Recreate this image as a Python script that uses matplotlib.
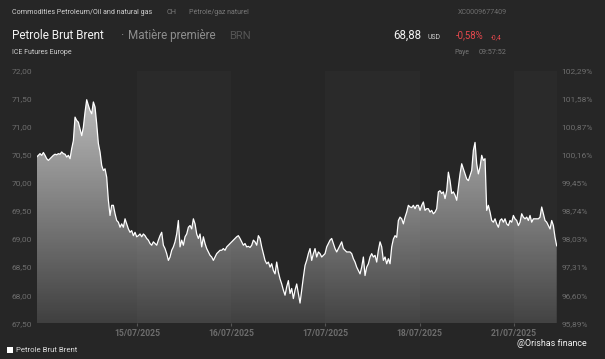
import numpy as np
import matplotlib
matplotlib.use('Agg')
import matplotlib.pyplot as plt
from matplotlib.patches import Rectangle

plt.rcParams['font.family'] = ['Roboto', 'DejaVu Sans']

# ---------------- data (Brent price, USD) ----------------
price_1 = [70.46, 70.49, 70.52, 70.49, 70.54, 70.49, 70.43, 70.40, 70.43, 70.46,
           70.49, 70.51, 70.50, 70.52, 70.51, 70.55, 70.52, 70.51, 70.46, 70.49, 70.43,
           70.61, 70.75, 71.17, 71.11, 71.08, 70.96, 70.84, 70.99, 71.26, 71.48,
           71.38, 71.29, 71.23, 71.44, 71.35, 71.05, 70.70, 70.55, 70.31, 70.22,
           70.25, 70.10, 69.69, 69.42, 69.60, 69.60, 69.45, 69.33, 69.30, 69.21,
           69.27, 69.21, 69.36, 69.27, 69.18, 69.12, 69.15, 69.06]
price_2 = [69.12, 69.04, 69.06, 69.09, 69.04, 69.09, 69.06, 69.01, 68.98, 68.92,
           68.89, 68.95, 68.92, 68.89, 68.98, 69.06, 69.12, 68.89, 68.83, 68.74,
           68.62, 68.68, 68.80, 68.86, 68.95, 69.09, 69.33, 68.86, 68.98, 68.89,
           69.04, 69.09, 69.21, 69.24, 69.18, 69.36, 69.27, 69.09, 69.01, 69.09,
           68.86, 69.04, 68.92, 68.83, 68.77, 68.71, 68.68, 68.62, 68.68, 68.74,
           68.77, 68.80, 68.80, 68.83, 68.80, 68.86, 68.89, 68.92, 68.95, 68.98,
           69.01, 69.04, 69.06]
price_3 = [69.01, 68.95, 68.89, 68.92, 68.86, 68.87, 68.85, 68.89, 68.98, 68.95,
           68.89, 69.06, 69.01, 68.86, 68.74, 68.62, 68.56, 68.59, 68.50, 68.56,
           68.44, 68.38, 68.59, 68.41, 68.29, 68.20, 68.09, 68.00, 68.15, 68.26,
           68.03, 68.12, 67.94, 68.09, 68.20, 68.03, 67.86, 68.09, 68.32, 68.53,
           68.62, 68.74, 68.83, 68.62, 68.74, 68.83, 68.68, 68.77, 68.74, 68.68,
           68.71, 68.74, 68.86, 68.92, 68.98, 69.01, 68.92]
price_4 = [68.83, 68.77, 68.83, 68.89, 68.95, 68.83, 68.80, 68.77, 68.77, 68.77,
           68.74, 68.65, 68.59, 68.50, 68.44, 68.38, 68.50, 68.68, 68.35, 68.50,
           68.56, 68.68, 68.74, 68.68, 68.71, 68.59, 68.80, 68.95, 68.86, 68.62,
           68.68, 68.56, 68.65, 68.56, 68.86, 69.00, 69.06, 69.03, 69.33, 69.39,
           69.36, 69.27, 69.39, 69.48, 69.60, 69.57, 69.56, 69.60, 69.54, 69.60,
           69.60, 69.51, 69.60, 69.66, 69.51, 69.54]
price_5 = [69.54, 69.48, 69.51, 69.45, 69.48, 69.54, 69.84, 69.86, 69.81, 69.84,
           69.72, 69.86, 70.19, 70.04, 69.81, 69.84, 69.78, 69.69, 69.92, 70.16,
           70.34, 70.25, 70.16, 70.07, 70.04, 70.13, 70.22, 70.58, 70.72, 70.34,
           70.16, 70.28, 70.49, 70.40, 70.43, 69.51, 69.60, 69.48, 69.33, 69.30,
           69.36, 69.27, 69.21, 69.33, 69.36, 69.30, 69.36, 69.27, 69.24, 69.33,
           69.30, 69.42, 69.36, 69.33, 69.24, 69.30, 69.45, 69.39, 69.36, 69.39,
           69.33, 69.42, 69.30, 69.36, 69.36, 69.36, 69.36, 69.39, 69.57, 69.45,
           69.33, 69.30, 69.24, 69.18, 69.33, 69.24, 69.03, 68.88]

# trading-day axis: 15/07 = 1 ... 21/07 = 5
session_start = -0.064
session_end = 5.453
day_ticks = [1, 2, 3, 4, 5]
day_labels = ['15/07/2025', '16/07/2025', '17/07/2025', '18/07/2025', '21/07/2025']
price_ticks = [72.0, 71.5, 71.0, 70.5, 70.0, 69.5, 69.0, 68.5, 68.0, 67.5]
price_labels = ['72,00', '71,50', '71,00', '70,50', '70,00', '69,50', '69,00', '68,50', '68,00', '67,50']
pct_labels = ['102,29%', '101,58%', '100,87%', '100,16%', '99,45%', '98,74%', '98,03%', '97,31%', '96,60%', '95,89%']
y_min, y_max = 67.5, 72.0

prices = np.array(price_1 + price_2 + price_3 + price_4 + price_5)
x = np.linspace(session_start, session_end, len(prices))

# ---------------- figure ----------------
W, H = 605, 359
BG = '#262626'
BAND = '#2a2a2a'
fig = plt.figure(figsize=(W / 100, H / 100), dpi=100)
fig.patch.set_facecolor(BG)

ax_l, ax_r, ax_t, ax_b = 36.7, 556.7, 70.5, 323.3
ax = fig.add_axes([ax_l / W, 1 - ax_b / H, (ax_r - ax_l) / W, (ax_b - ax_t) / H])
ax.set_facecolor(BG)
ax.set_xlim(session_start, session_end)
ax.set_ylim(y_min, y_max)
for s in ax.spines.values():
    s.set_visible(False)

# alternating day bands
for a, b in [(1, 2), (3, 4), (5, session_end)]:
    ax.axvspan(a, b, color=BAND, lw=0, zorder=0)

# gradient area
alpha = np.linspace(0.12, 0.76, 256)
rgba = np.ones((256, 1, 4))
rgba[:, 0, 3] = alpha
im = ax.imshow(rgba, extent=[session_start, session_end, y_min, y_max], origin='lower',
               aspect='auto', zorder=2, interpolation='bilinear')
poly = ax.fill_between(x, prices, y_min, facecolor='none', edgecolor='none')
im.set_clip_path(poly.get_paths()[0], transform=ax.transData)
ax.plot(x, prices, color='white', lw=0.9, zorder=3, solid_joinstyle='round')

# ticks
ax.set_xticks(day_ticks)
ax.set_xticklabels(day_labels, fontsize=6.2, color='#6c6c6c', fontweight='bold')
ax.tick_params(axis='x', length=2.5, width=0.8, color='#555555', pad=1.5)
ax.set_yticks(price_ticks)
ax.set_yticklabels(price_labels, fontsize=6.0, color='#6e6e6e')
ax.tick_params(axis='y', length=0, pad=3.2)
ax2 = ax.twinx()
ax2.set_ylim(y_min, y_max)
ax2.set_yticks(price_ticks)
ax2.set_yticklabels(pct_labels, fontsize=6.0, color='#6e6e6e')
ax2.tick_params(axis='y', length=0, pad=3.6)
for s in ax2.spines.values():
    s.set_visible(False)

# ---------------- header texts ----------------
renderer = fig.canvas.get_renderer()


def put(xpx, ypx, s, color, target_w, ha='left', weight='normal', size=7):
    t = fig.text(xpx / W, 1 - ypx / H, s, fontsize=size, color=color, ha=ha,
                 va='center', fontweight=weight)
    w = t.get_window_extent(renderer).width
    t.set_fontsize(size * target_w / w)
    return t


put(12, 12.7, 'Commodities Petroleum/Oil and natural gas', '#d2d2d2', 139)
put(167, 12.7, 'CH', '#7a7a7a', 10)
put(189, 12.7, 'Pétrole/gaz naturel', '#7a7a7a', 60)
put(507, 12.7, 'XC0009677409', '#6e6e6e', 49, ha='right')

put(12, 35.7, 'Petrole Brut Brent', '#f2f2f2', 93)
fig.text(120 / W, 1 - 35.7 / H, '·', fontsize=9, color='#8e8e8e', va='center')
put(128, 35.7, 'Matière première', '#8e8e8e', 89)
put(229, 35.7, 'BRN', '#555555', 22)
put(393, 35.7, '68,88', '#f2f2f2', 28)
put(428, 37.2, 'USD', '#cfcfcf', 13)
put(456, 35.7, '-0,58%', '#e5484d', 28)
put(491, 37.2, '-0,4', '#e5484d', 11)

put(12, 52.3, 'ICE Futures Europe', '#cfcfcf', 59)
put(454, 52.3, 'Paye', '#777777', 15)
put(479, 52.3, '09:57:52', '#777777', 28)

# legend + credit
fig.patches.append(Rectangle((7 / W, 1 - 353.3 / H), 6 / W, 6 / H, transform=fig.transFigure,
                             facecolor='white', edgecolor='none'))
put(16, 350.5, 'Petrole Brut Brent', '#d8d8d8', 62)
put(517, 344, '@Orishas finance', '#f4f4f4', 70)

fig.savefig('out.png', dpi=100, facecolor=BG)
